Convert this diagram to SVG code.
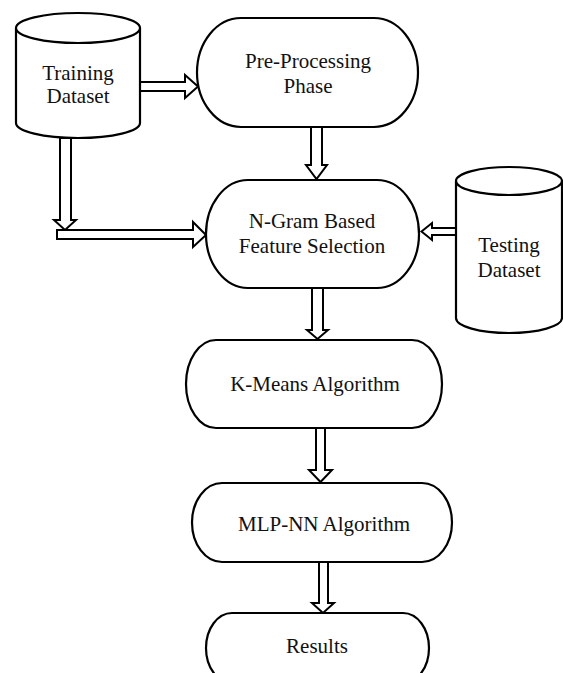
<svg xmlns="http://www.w3.org/2000/svg" width="563" height="673" viewBox="0 0 563 673">
<style>
.s{fill:#fff;stroke:#000;stroke-width:2.2;stroke-linejoin:round}
.a{fill:#fff;stroke:#000;stroke-width:2;stroke-linejoin:miter}
.t{font-family:"Liberation Serif","Times New Roman",serif;font-size:21px;fill:#111;text-anchor:middle}
</style>
<rect width="563" height="673" fill="#fff"/>
<g id="connectors">
<polygon class="a" points="140,82 185,82 185,75 198,86.5 185,98 185,91 140,91"/>
<polygon class="a" points="60,138 71,138 71,220 76,220 65,230 54,220 60,220"/>
<polygon class="a" points="57,230 193,230 193,222 206,235 193,247 193,239 57,239"/>
<polygon class="a" points="311,127 322,127 322,165 327,165 316.5,179 306,165 311,165"/>
<polygon class="a" points="456,228 432,228 432,223 421.5,231.5 432,240 432,235 456,235"/>
<polygon class="a" points="312,288 323,288 323,330 328,330 317.5,339 307,330 312,330"/>
<polygon class="a" points="316,428 325,428 325,470 332,470 320.5,482 309,470 316,470"/>
<polygon class="a" points="319,562 328,562 328,603 334,603 323,613 312,603 319,603"/>
</g>
<g id="training">
<path class="s" d="M16,28 V123 A62,15 0 0 0 140,123 V28"/>
<ellipse class="s" cx="78" cy="28" rx="62" ry="15"/>
<text class="t" x="78" y="80">Training</text>
<text class="t" x="78" y="103">Dataset</text>
</g>
<g id="preprocessing">
<rect class="s" x="197" y="18" width="221" height="109" rx="44" ry="54.5"/>
<text class="t" x="308" y="68">Pre-Processing</text>
<text class="t" x="308" y="93">Phase</text>
</g>
<g id="ngram">
<rect class="s" x="206" y="180" width="213" height="108" rx="42" ry="54"/>
<text class="t" x="312" y="228">N-Gram Based</text>
<text class="t" x="312" y="253">Feature Selection</text>
</g>
<g id="testing">
<path class="s" d="M456,181 V318 A53,15 0 0 0 562,318 V181"/>
<ellipse class="s" cx="509" cy="181" rx="53" ry="14"/>
<text class="t" x="509" y="252">Testing</text>
<text class="t" x="509" y="277">Dataset</text>
</g>
<g id="kmeans">
<rect class="s" x="186" y="340" width="256" height="88" rx="30" ry="44"/>
<text class="t" x="315" y="391">K-Means Algorithm</text>
</g>
<g id="mlp">
<rect class="s" x="192" y="483" width="260" height="79" rx="30" ry="39.5"/>
<text class="t" x="324" y="531">MLP-NN Algorithm</text>
</g>
<g id="results">
<rect class="s" x="206" y="613" width="223" height="70" rx="26" ry="35"/>
<text class="t" x="317" y="653">Results</text>
</g>
</svg>
